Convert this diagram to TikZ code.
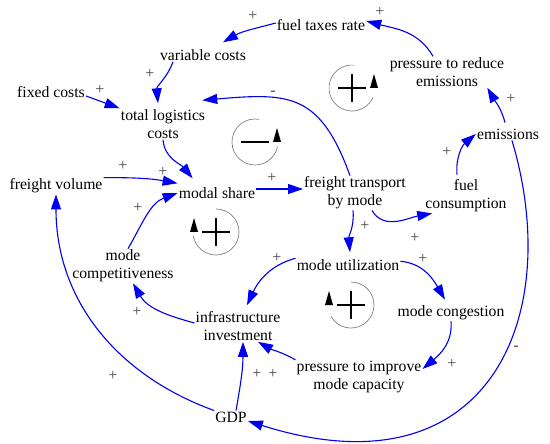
\documentclass[tikz,border=0pt]{standalone}
\usepackage{fontspec}
\setmainfont{Liberation Serif}
\usepackage{tikz}
\usetikzlibrary{arrows.meta}
\definecolor{linkblue}{RGB}{0,0,240}
\definecolor{ringgray}{RGB}{130,130,130}
\definecolor{signgray}{RGB}{70,70,70}

\begin{document}
\begin{tikzpicture}[
            x=1pt, y=1pt,
            font=\fontsize{15.7}{18}\selectfont,
            >={Triangle[length=15pt,width=10pt]},
            var/.style={align=center, inner sep=1pt},
            link/.style={->, draw=linkblue, line width=1.1pt},
            pol/.style={text=signgray, inner sep=0pt, font=\fontsize{16}{16}\selectfont},
            loopring/.style={draw=ringgray, line width=0.7pt},
            loopsign/.style={line width=2.3pt},
            looptip/.style={fill=black}
            ]
            \useasboundingbox (0,0) rectangle (550,-444);

            % ===== Variables =====
            \node[var] (fueltax) at (321,-25) {fuel taxes rate};
            \node[var] (varcost) at (203,-55) {variable costs};
            \node[var] (fixcost) at (51,-92) {fixed costs};
            \node[var] (logcost) at (163,-124) {total logistics\\costs};
            \node[var] (reducepress) at (447,-72) {pressure to reduce\\emissions};
            \node[var] (emissions) at (508,-134) {emissions};
            \node[var] (volume) at (56,-186) {freight volume};
            \node[var] (modalshare) at (217,-193) {modal share};
            \node[var] (transport) at (355,-193) {freight transport\\by mode};
            \node[var] (fuelcons) at (466,-196) {fuel\\consumption};
            \node[var] (competit) at (123,-266) {mode\\competitiveness};
            \node[var] (utiliz) at (348,-265) {mode utilization};
            \node[var] (congest) at (451,-313) {mode congestion};
            \node[var] (infra) at (238,-326) {infrastructure\\investment};
            \node[var] (improvepress) at (359,-377) {pressure to improve\\mode capacity};
            \node[var] (gdp) at (231,-417) {GDP};

            % ===== Links: top part =====
            \draw[link] ([xshift=-14pt]reducepress.north) to[out=120,in=-15] ([yshift=4pt]fueltax.east);
            \draw[link] ([yshift=2pt]fueltax.west) to[out=195,in=30] ([xshift=20pt,yshift=6pt]varcost.north);
            \draw[link] ([xshift=-30pt]varcost.south) to[out=250,in=95] ([xshift=-5pt,yshift=5pt]logcost.north);
            \draw[link] ([yshift=-4pt]fixcost.east) -- (logcost.north west);
            \draw[link] ([xshift=-5pt]transport.north) to[out=110,in=5,looseness=1.35] ([shift={(-4pt,8pt)}]logcost.north east);

            % ===== Links: into and out of modal share =====
            \draw[link] (logcost.south) to[out=-85,in=130] ([shift={(15pt,8pt)}]modalshare.north west);
            \draw[link] (volume.north east) to[out=0,in=170] ([yshift=3pt]modalshare.north west);
            \draw[link] ([xshift=5pt]competit.north) to[out=60,in=200] (modalshare.west);
            \draw[link] ([yshift=4pt]modalshare.east) -- ([yshift=4pt]modalshare.east -| transport.west);

            % ===== Links: emissions side =====
            \draw[link] ([xshift=17pt]transport.south) to[out=-60,in=190] ([xshift=8pt]fuelcons.south west);
            \draw[link] ([xshift=-9pt,yshift=4pt]fuelcons.north) to[out=95,in=220] (emissions.west);
            \draw[link] ([xshift=-3pt,yshift=5pt]emissions.north) to[out=105,in=-60] ([xshift=-18pt]reducepress.south east);
            \draw[link] ([xshift=4pt]emissions.south) .. controls +(53,-178) and +(240,-76) .. ([yshift=-4pt]gdp.east);

            % ===== Links: lower part =====
            \draw[link] ([xshift=-2pt]transport.south) to[out=-85,in=95] ([xshift=2pt,yshift=6pt]utiliz.north);
            \draw[link] (gdp.north west) to[out=160,in=-90] (volume.south);
            \draw[link] ([xshift=5pt]gdp.north) to[out=80,in=-90] ([xshift=5pt]infra.south);
            \draw[link] (improvepress.north west) to[out=150,in=-30] ([xshift=20pt]infra.south);
            \draw[link] (utiliz.north west) to[out=195,in=65] ([xshift=9pt,yshift=5pt]infra.north);
            \draw[link] ([yshift=3pt]infra.west) to[out=165,in=-60] ([xshift=10pt]competit.south);
            \draw[link] ([yshift=-3pt]utiliz.north east) to[out=-5,in=120] ([xshift=-6pt,yshift=5pt]congest.north);
            \draw[link] (congest.south) to[out=-85,in=40] ([yshift=8pt]improvepress.east);

            % ===== Polarities =====
            \node[pol] (sgtax) at (380,-12) {+};
            \node[pol] (sgvar) at (253,-16) {+};
            \node[pol] (sgcost) at (150,-74) {+};
            \node[pol] (sgfix) at (100,-90) {+};
            \node[pol] (sgback) at (273,-93) {-};
            \node[pol] (sgvol) at (123,-166) {+};
            \node[pol] (sgshare) at (163,-172) {+};
            \node[pol] (sgcomp) at (138,-208) {+};
            \node[pol] (sgmode) at (272,-178) {+};
            \node[pol] (sgfuel) at (447,-152) {+};
            \node[pol] (sgpress) at (511,-99) {+};
            \node[pol] (sgutil) at (365,-226) {+};
            \node[pol] (sgcons) at (415,-238) {+};
            \node[pol] (sgcong) at (423,-259) {+};
            \node[pol] (sginv) at (277,-258) {+};
            \node[pol] (sgcmp) at (137,-312) {+};
            \node[pol] (sggdp) at (113,-376) {+};
            \node[pol] (sggi) at (257,-374) {+};
            \node[pol] (sgimp) at (273,-374) {+};
            \node[pol] (sgcap) at (452,-364) {+};
            \node[pol] (sgneg) at (516,-348) {-};

            % ===== Loop markers =====
            \coordinate (loopA) at (352,-88);
            \coordinate (loopB) at (255,-142);
            \coordinate (loopC) at (216,-232);
            \coordinate (loopD) at (351,-305);

            \draw[loopring] (loopA) ++(84:23) arc[start angle=84, end angle=336, radius=23];
            \fill[looptip] ([xshift=18pt]loopA) -- ([xshift=26pt]loopA) -- ([shift={(22pt,14pt)}]loopA) -- cycle;
            \draw[loopsign] ([xshift=-14pt]loopA) -- ([xshift=14pt]loopA) ([yshift=-14pt]loopA) -- ([yshift=14pt]loopA);

            \draw[loopring] (loopB) ++(80:23) arc[start angle=80, end angle=348, radius=23];
            \fill[looptip] ([xshift=18pt]loopB) -- ([xshift=26pt]loopB) -- ([shift={(22pt,14pt)}]loopB) -- cycle;
            \draw[loopsign] ([xshift=-14pt]loopB) -- ([xshift=14pt]loopB);

            \draw[loopring] (loopC) ++(90:23) arc[start angle=90, end angle=-170, radius=23];
            \fill[looptip] ([xshift=-18pt]loopC) -- ([xshift=-26pt]loopC) -- ([shift={(-22pt,14pt)}]loopC) -- cycle;
            \draw[loopsign] ([xshift=-14pt]loopC) -- ([xshift=14pt]loopC) ([yshift=-14pt]loopC) -- ([yshift=14pt]loopC);

            \draw[loopring] (loopD) ++(90:23) arc[start angle=90, end angle=-150, radius=23];
            \fill[looptip] ([xshift=-18pt]loopD) -- ([xshift=-26pt]loopD) -- ([shift={(-22pt,14pt)}]loopD) -- cycle;
            \draw[loopsign] ([xshift=-14pt]loopD) -- ([xshift=14pt]loopD) ([yshift=-14pt]loopD) -- ([yshift=14pt]loopD);

        \end{tikzpicture}
\end{document}
